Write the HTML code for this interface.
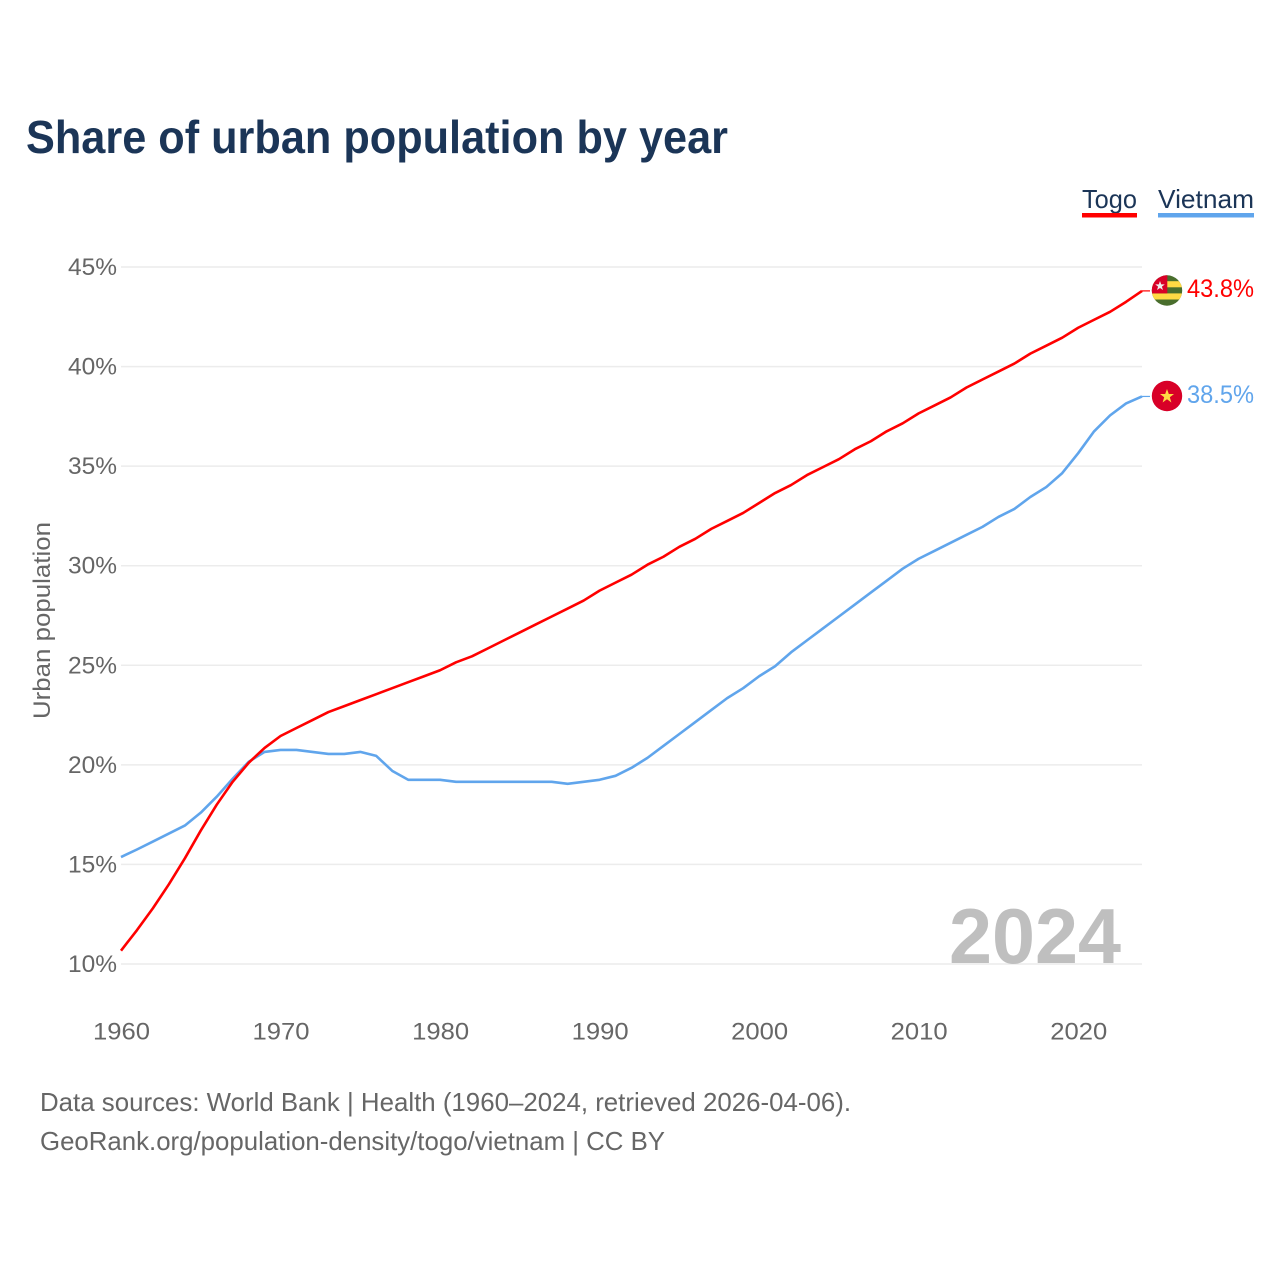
<!DOCTYPE html>
<html>
<head>
<meta charset="utf-8">
<title>Share of urban population by year</title>
<style>
html,body{margin:0;padding:0;background:#fff;width:1280px;height:1280px;overflow:hidden}
svg{display:block}
text{font-family:"Liberation Sans",sans-serif}
</style>
</head>
<body>
<svg id="chart" width="1280" height="1280" viewBox="0 0 1280 1280" xmlns="http://www.w3.org/2000/svg">
  <defs>
    <clipPath id="flag-clip-togo"><circle cx="1167" cy="290.5" r="15.2"/></clipPath>
    <clipPath id="flag-clip-vietnam"><circle cx="1167" cy="396" r="15.2"/></clipPath>
  </defs>
  <text x="26" y="153" font-size="46" font-weight="700" fill="#1b3557" textLength="702" lengthAdjust="spacingAndGlyphs">Share of urban population by year</text>

  <g id="grid"></g>
  <g id="yticks"></g>
  <g id="xticks"></g>
  <text transform="translate(50,719) rotate(-90)" font-size="24" fill="#666666" textLength="197" lengthAdjust="spacingAndGlyphs">Urban population</text>

  <text x="949" y="963" font-size="78" font-weight="700" fill="#bfbfbf" textLength="172" lengthAdjust="spacingAndGlyphs">2024</text>

  <g id="series"></g>

  <g>
    <text x="1082" y="208" font-size="26" fill="#1b3557" textLength="55" lengthAdjust="spacingAndGlyphs">Togo</text>
    <rect x="1082" y="213" width="55" height="4.5" fill="#ff0000"/>
  </g>
  <g>
    <text x="1158" y="208" font-size="26" fill="#1b3557" textLength="96" lengthAdjust="spacingAndGlyphs">Vietnam</text>
    <rect x="1158" y="213" width="96" height="4.5" fill="#60a5ec"/>
  </g>

  <g clip-path="url(#flag-clip-togo)">
    <rect x="1151" y="275" width="32" height="32" fill="#496e2d"/>
    <rect x="1151" y="281.2" width="32" height="6.1" fill="#ffda44"/>
    <rect x="1151" y="293.4" width="32" height="6.1" fill="#ffda44"/>
    <rect x="1151" y="275" width="16.3" height="18.4" fill="#d80027"/>
    <polygon points="1160,281 1161.2,284.4 1164.8,284.4 1161.9,286.6 1163,290 1160,288 1157,290 1158.1,286.6 1155.2,284.4 1158.8,284.4" fill="#eeeeee"/>
  </g>
  <g clip-path="url(#flag-clip-vietnam)">
    <rect x="1151" y="380" width="32" height="32" fill="#d80027"/>
    <polygon points="1167,389 1168.8,394 1174,394 1169.8,397.2 1171.4,402.5 1167,399.3 1162.6,402.5 1164.2,397.2 1160,394 1165.2,394" fill="#ffda44"/>
  </g>

  <text x="1187" y="297" font-size="25" fill="#ff0000" textLength="67" lengthAdjust="spacingAndGlyphs">43.8%</text>
  <text x="1187" y="403" font-size="25" fill="#60a5ec" textLength="67" lengthAdjust="spacingAndGlyphs">38.5%</text>

  <text x="40" y="1111" font-size="26" fill="#666666" textLength="811" lengthAdjust="spacingAndGlyphs">Data sources: World Bank | Health (1960–2024, retrieved 2026-04-06).</text>
  <text x="40" y="1150" font-size="26" fill="#666666" textLength="625" lengthAdjust="spacingAndGlyphs">GeoRank.org/population-density/togo/vietnam | CC BY</text>
</svg>
<script>
var years = [1960,1961,1962,1963,1964,1965,1966,1967,1968,1969,1970,1971,1972,1973,1974,1975,1976,1977,1978,1979,1980,1981,1982,1983,1984,1985,1986,1987,1988,1989,1990,1991,1992,1993,1994,1995,1996,1997,1998,1999,2000,2001,2002,2003,2004,2005,2006,2007,2008,2009,2010,2011,2012,2013,2014,2015,2016,2017,2018,2019,2020,2021,2022,2023,2024];
var togoValues = [10.67,11.7,12.8,14.0,15.3,16.7,18.0,19.15,20.1,20.85,21.45,21.85,22.25,22.65,22.95,23.25,23.55,23.85,24.15,24.45,24.75,25.15,25.45,25.85,26.25,26.65,27.05,27.45,27.85,28.25,28.75,29.15,29.55,30.05,30.45,30.95,31.35,31.85,32.25,32.65,33.15,33.65,34.05,34.55,34.95,35.35,35.85,36.25,36.75,37.15,37.65,38.05,38.45,38.95,39.35,39.75,40.15,40.65,41.05,41.45,41.95,42.35,42.75,43.25,43.8];
var vietnamValues = [15.37,15.75,16.15,16.55,16.95,17.6,18.4,19.3,20.15,20.65,20.75,20.75,20.65,20.55,20.55,20.65,20.45,19.7,19.25,19.25,19.25,19.15,19.15,19.15,19.15,19.15,19.15,19.15,19.05,19.15,19.25,19.45,19.85,20.35,20.95,21.55,22.15,22.75,23.35,23.85,24.45,24.95,25.65,26.25,26.85,27.45,28.05,28.65,29.25,29.85,30.35,30.75,31.15,31.55,31.95,32.45,32.85,33.45,33.95,34.65,35.65,36.75,37.55,38.15,38.5];
var yTickValues = [10,15,20,25,30,35,40,45];
var xTickValues = [1960,1970,1980,1990,2000,2010,2020];

var SVG_NS = 'http://www.w3.org/2000/svg';
function xScale(year) { return 121 + (year - 1960) * (1142 - 121) / 64; }
function yScale(value) { return 964 - (value - 10) * (964 - 267) / 35; }

var gridGroup = document.getElementById('grid');
var yTickGroup = document.getElementById('yticks');
var xTickGroup = document.getElementById('xticks');
var seriesGroup = document.getElementById('series');

yTickValues.forEach(function (v) {
  var line = document.createElementNS(SVG_NS, 'line');
  
  
  line.setAttribute('x1', 121);
  line.setAttribute('x2', 1142);
  line.setAttribute('y1', yScale(v));
  line.setAttribute('y2', yScale(v));
  line.setAttribute('stroke', '#ececec');
  line.setAttribute('stroke-width', 1.5);
  gridGroup.appendChild(line);

  var label = document.createElementNS(SVG_NS, 'text');
  
  
  label.setAttribute('x', 117);
  label.setAttribute('y', yScale(v) + 8);
  label.setAttribute('text-anchor', 'end');
  label.setAttribute('font-size', 24);
  label.setAttribute('fill', '#666666');
  label.setAttribute('textLength', 49);
  label.setAttribute('lengthAdjust', 'spacingAndGlyphs');
  label.textContent = v + '%';
  yTickGroup.appendChild(label);
});

xTickValues.forEach(function (y) {
  var label = document.createElementNS(SVG_NS, 'text');
  
  
  label.setAttribute('x', xScale(y) + 0.5);
  label.setAttribute('y', 1039.5);
  label.setAttribute('text-anchor', 'middle');
  label.setAttribute('font-size', 24);
  label.setAttribute('fill', '#666666');
  label.setAttribute('textLength', 57);
  label.setAttribute('lengthAdjust', 'spacingAndGlyphs');
  label.textContent = y;
  xTickGroup.appendChild(label);
});

function drawSeries(name, values, color) {
  var d = values.map(function (v, i) {
    return (i ? 'L' : 'M') + xScale(years[i]).toFixed(2) + ' ' + yScale(v).toFixed(2);
  }).join(' ');
  var path = document.createElementNS(SVG_NS, 'path');
  
  
  path.setAttribute('d', d);
  path.setAttribute('fill', 'none');
  path.setAttribute('stroke', color);
  path.setAttribute('stroke-width', 2.6);
  path.setAttribute('stroke-linejoin', 'round');
  seriesGroup.appendChild(path);

  var last = values[values.length - 1];
  var connector = document.createElementNS(SVG_NS, 'line');
  
  
  connector.setAttribute('x1', xScale(years[years.length - 1]));
  connector.setAttribute('x2', 1150);
  connector.setAttribute('y1', yScale(last));
  connector.setAttribute('y2', yScale(last));
  connector.setAttribute('stroke', color);
  connector.setAttribute('stroke-width', 1.2);
  seriesGroup.appendChild(connector);
}
drawSeries('vietnam', vietnamValues, '#60a5ec');
drawSeries('togo', togoValues, '#ff0000');
</script>
</body>
</html>
